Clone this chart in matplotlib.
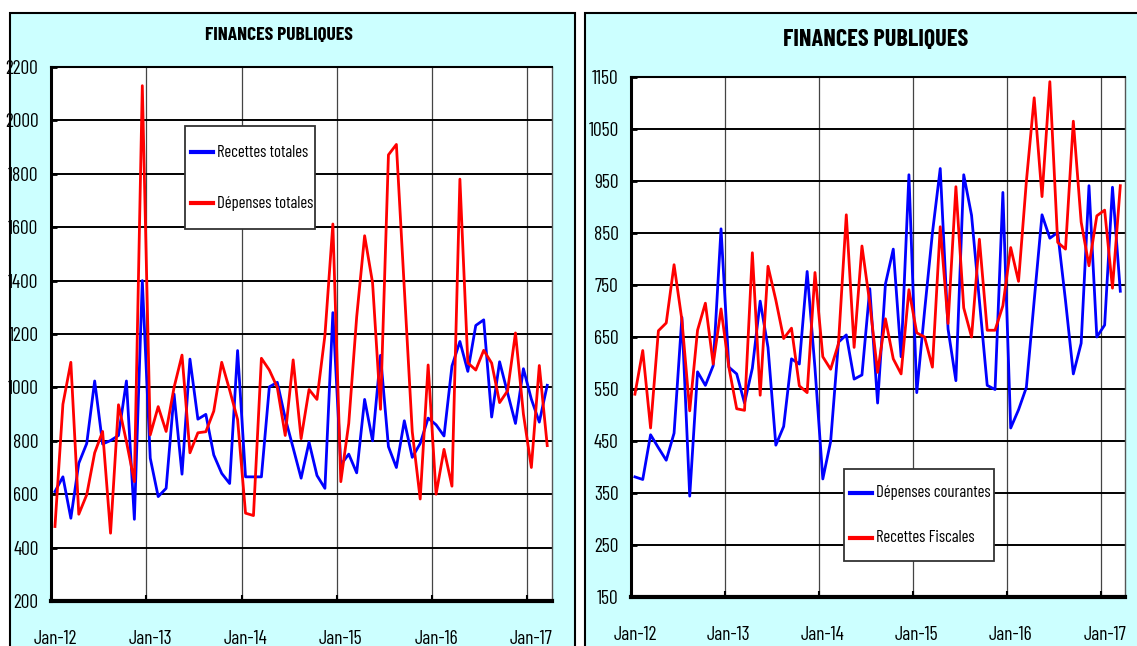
import matplotlib
matplotlib.use("Agg")
import matplotlib.pyplot as plt
from matplotlib.patches import Rectangle
from matplotlib.lines import Line2D
import numpy as np

# ---------------- data ----------------
year_labels = ["Jan-12", "Jan-13", "Jan-14", "Jan-15", "Jan-16", "Jan-17"]

recettes_totales = [610, 665, 510, 716, 790, 1024, 788, 801, 820, 1024, 506, 1400,
                    735, 591, 622, 975, 675, 1106, 881, 899, 747, 678, 640, 1138,
                    665, 665, 665, 1002, 1019, 885, 773, 660, 795, 670, 622, 1280,
                    710, 750, 680, 955, 800, 1120, 778, 700, 875, 738, 790, 885,
                    860, 818, 1080, 1172, 1060, 1232, 1253, 889, 1096, 980, 865, 1070,
                    956, 870, 1008]

depenses_totales = [479, 937, 1094, 525, 598, 755, 835, 454, 935, 797, 647, 2130,
                    822, 928, 835, 1000, 1121, 755, 830, 834, 911, 1094, 990, 880,
                    529, 520, 1109, 1065, 1000, 820, 1103, 808, 992, 955, 1195, 1612,
                    647, 865, 1264, 1568, 1392, 918, 1871, 1910, 1370, 834, 582, 1084,
                    600, 768, 630, 1780, 1092, 1065, 1139, 1091, 943, 987, 1204, 900,
                    700, 1082, 782]

depenses_courantes = [381, 376, 462, 437, 413, 465, 688, 344, 583, 557, 595, 858,
                      592, 579, 523, 590, 719, 630, 442, 478, 608, 598, 776, 590,
                      377, 449, 640, 654, 569, 577, 743, 523, 752, 819, 612, 962,
                      543, 700, 850, 974, 665, 566, 962, 884, 720, 557, 549, 928,
                      475, 510, 553, 720, 885, 840, 851, 720, 579, 638, 941, 650,
                      673, 938, 738]

recettes_fiscales = [540, 624, 475, 662, 677, 789, 683, 508, 663, 715, 598, 704,
                     592, 512, 509, 812, 538, 786, 721, 647, 667, 556, 543, 774,
                     612, 588, 637, 885, 630, 825, 715, 582, 685, 608, 579, 741,
                     658, 650, 592, 862, 676, 939, 706, 650, 838, 663, 663, 710,
                     822, 757, 949, 1110, 920, 1141, 832, 819, 1065, 871, 787, 883,
                     894, 744, 941]

W, H = 1137, 646
fig = plt.figure(figsize=(W / 100, H / 100), dpi=100)
fig.patch.set_facecolor("white")

FONT = ["Barlow Condensed", "Liberation Sans Narrow", "Archivo Narrow",
        "Liberation Sans", "DejaVu Sans"]
plt.rcParams["font.family"] = FONT

CYAN = "#CCFFFF"


def fx(px):
    return px / W


def fy(py):
    return 1 - py / H


# panel backgrounds
fig.add_artist(Rectangle((fx(10), fy(660)), fx(565), fy(13) - fy(660),
                         transform=fig.transFigure, facecolor=CYAN,
                         edgecolor="black", lw=1.5, zorder=0))
fig.add_artist(Rectangle((fx(585), fy(660)), fx(600), fy(13) - fy(660),
                         transform=fig.transFigure, facecolor=CYAN,
                         edgecolor="black", lw=1.5, zorder=0))


def make_axes(rect_px, ylim, yticks, s1, s2, c1, c2):
    x0, y0, x1, y1 = rect_px
    ax = fig.add_axes([fx(x0), fy(y1), fx(x1 - x0), fy(y0) - fy(y1)])
    ax.set_facecolor("white")
    n = len(s1)
    x = np.arange(n)
    ax.plot(x, s1, color=c1, lw=2.0, zorder=3)
    ax.plot(x, s2, color=c2, lw=2.0, zorder=3)
    ax.set_xlim(-0.45, n - 0.4)
    ax.set_ylim(*ylim)
    ax.set_yticks(yticks)
    ax.set_yticklabels([str(v) for v in yticks])
    major = [12 * k - 0.5 for k in range(len(year_labels))]
    ax.set_xticks(major)
    ax.set_xticklabels([""] * len(major))
    ax.set_xticks([12 * k for k in range(len(year_labels))], minor=True)
    ax.set_xticklabels(year_labels, minor=True)
    ax.tick_params(axis="x", which="major", direction="in", length=4, width=1.5)
    ax.tick_params(axis="x", which="minor", length=0, pad=21, labelsize=14)
    ax.tick_params(axis="y", direction="in", length=4, width=2, pad=9,
                   labelsize=14)
    ax.yaxis.grid(True, color="black", lw=1.4, zorder=1)
    ax.xaxis.grid(True, which="major", color="#444444", lw=0.9, zorder=1)
    ax.set_axisbelow(True)
    ax.spines["left"].set_linewidth(2.2)
    ax.spines["bottom"].set_linewidth(3)
    ax.spines["top"].set_linewidth(1.5)
    ax.spines["right"].set_linewidth(1.0)
    ax.spines["right"].set_color("#555555")
    return ax


ax1 = make_axes((51, 67, 552, 601), (200, 2200), list(range(200, 2201, 200)),
                recettes_totales, depenses_totales, "#0000FF", "#FF0000")
ax2 = make_axes((631, 77, 1125, 597), (150, 1150), list(range(150, 1151, 100)),
                depenses_courantes, recettes_fiscales, "#0000FF", "#FF0000")

fig.text(fx(279), fy(35), "FINANCES PUBLIQUES", ha="center", va="center",
         fontsize=14, fontweight="bold")
fig.text(fx(876), fy(40), "FINANCES PUBLIQUES", ha="center", va="center",
         fontsize=17.5, fontweight="bold")


def legend_box(box, entries):
    x0, y0, x1, y1 = box
    fig.add_artist(Rectangle((fx(x0), fy(y1)), fx(x1 - x0), fy(y0) - fy(y1),
                             transform=fig.transFigure, facecolor="white",
                             edgecolor="#333333", lw=1.3, zorder=5))
    for (label, color, ly) in entries:
        fig.add_artist(Line2D([fx(x0 + 6), fx(x0 + 28)], [fy(ly), fy(ly)],
                              transform=fig.transFigure, color=color, lw=3,
                              zorder=6))
        fig.text(fx(x0 + 32), fy(ly), label, ha="left", va="center",
                 fontsize=12, zorder=7)


legend_box((185, 126, 315, 229), [("Recettes totales", "#0000FF", 152),
                                  ("Dépenses totales", "#FF0000", 203)])
legend_box((844, 469, 994, 561), [("Dépenses courantes", "#0000FF", 493),
                                  ("Recettes Fiscales", "#FF0000", 538)])

fig.savefig("out.png", dpi=100)
